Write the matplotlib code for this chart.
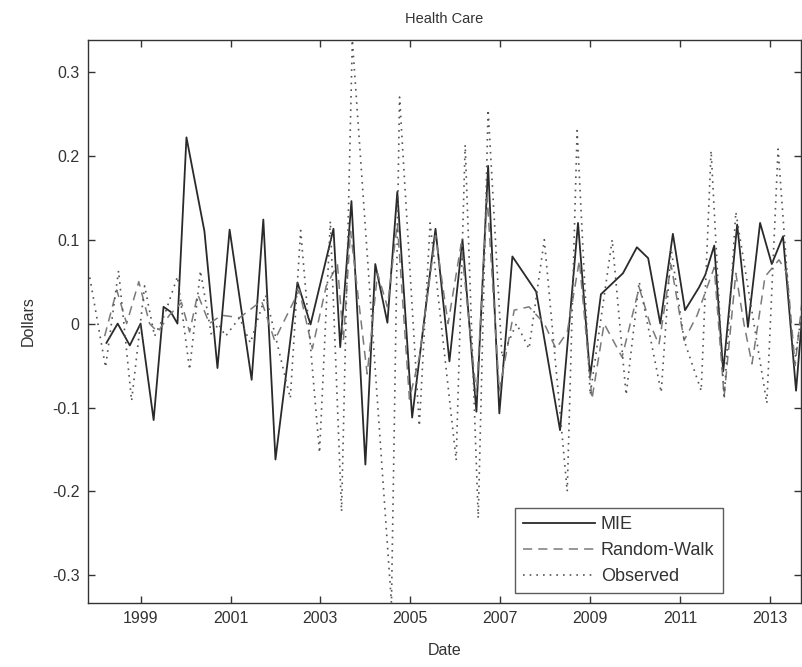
import matplotlib
matplotlib.use("Agg")
import matplotlib.pyplot as plt

plt.rcParams['font.family'] = ['Liberation Sans', 'DejaVu Sans']
plt.rcParams['axes.unicode_minus'] = False

# --- data (fractional years, dollars) ---
mie_t = [1998.24, 1998.49, 1998.76, 1999.00, 1999.29, 1999.51, 1999.67, 1999.82, 2000.02,
         2000.42, 2000.71, 2000.98, 2001.47, 2001.73, 2002.00, 2002.49, 2002.78, 2003.29,
         2003.44, 2003.69, 2004.00, 2004.22, 2004.49, 2004.71, 2005.04, 2005.56, 2005.87,
         2006.16, 2006.47, 2006.73, 2006.98, 2007.27, 2007.80, 2008.33, 2008.73, 2009.00,
         2009.24, 2009.73, 2010.04, 2010.29, 2010.56, 2010.84, 2011.11, 2011.42, 2011.56,
         2011.76, 2011.96, 2012.27, 2012.51, 2012.78, 2013.04, 2013.29, 2013.58, 2013.78]
mie_v = [-0.023, 0.000, -0.026, 0.000, -0.115, 0.020, 0.014, 0.000, 0.222,
         0.110, -0.053, 0.112, -0.067, 0.124, -0.162, 0.049, -0.001, 0.113,
         -0.028, 0.146, -0.168, 0.071, 0.001, 0.157, -0.112, 0.113, -0.045,
         0.100, -0.105, 0.188, -0.107, 0.080, 0.038, -0.127, 0.120, -0.063,
         0.035, 0.060, 0.091, 0.078, 0.000, 0.107, 0.016, 0.043, 0.058,
         0.093, -0.057, 0.118, -0.004, 0.120, 0.071, 0.104, -0.080, 0.050]

rw_t = [1998.20, 1998.47, 1998.69, 1998.96, 1999.20, 1999.38, 1999.64, 1999.91, 2000.09,
        2000.27, 2000.53, 2000.80, 2001.20, 2001.69, 2001.98, 2002.31, 2002.53, 2002.82,
        2003.13, 2003.38, 2003.51, 2003.67, 2003.91, 2004.04, 2004.27, 2004.49, 2004.71,
        2004.98, 2005.20, 2005.56, 2005.84, 2006.13, 2006.47, 2006.71, 2006.98, 2007.31,
        2007.64, 2007.98, 2008.24, 2008.49, 2008.76, 2009.04, 2009.31, 2009.71, 2010.09,
        2010.33, 2010.53, 2010.80, 2011.09, 2011.38, 2011.76, 2011.98, 2012.24, 2012.42,
        2012.60, 2012.89, 2013.20, 2013.38, 2013.56, 2013.76]
rw_v = [-0.015, 0.040, 0.000, 0.050, 0.000, -0.010, 0.010, 0.025, -0.010,
        0.035, 0.000, 0.010, 0.007, 0.027, -0.020, 0.016, 0.040, -0.030,
        0.045, 0.070, -0.020, 0.110, 0.000, -0.060, 0.060, 0.020, 0.120,
        -0.090, -0.040, 0.105, 0.000, 0.095, -0.085, 0.150, -0.080, 0.016,
        0.020, 0.000, -0.030, -0.010, 0.075, -0.090, 0.000, -0.040, 0.043,
        0.000, -0.025, 0.070, -0.020, 0.010, 0.067, -0.087, 0.060, 0.000,
        -0.048, 0.056, 0.076, 0.060, -0.050, 0.050]

obs_t = [1997.87, 1998.22, 1998.51, 1998.80, 1999.09, 1999.31, 1999.53, 1999.82, 2000.09,
         2000.33, 2000.58, 2000.73, 2000.89, 2001.20, 2001.44, 2001.78, 2002.33, 2002.56,
         2002.98, 2003.22, 2003.47, 2003.71, 2004.58, 2004.76, 2005.20, 2005.44, 2006.02,
         2006.22, 2006.51, 2006.73, 2007.04, 2007.36, 2007.64, 2007.98, 2008.49, 2008.71,
         2009.00, 2009.49, 2009.80, 2010.09, 2010.58, 2010.80, 2011.09, 2011.47, 2011.69,
         2011.98, 2012.24, 2012.93, 2013.18, 2013.53, 2013.76]
obs_v = [0.055, -0.052, 0.063, -0.092, 0.045, -0.015, 0.010, 0.056, -0.055,
         0.063, -0.015, 0.000, -0.015, 0.007, -0.023, 0.034, -0.089, 0.111,
         -0.154, 0.122, -0.224, 0.338, -0.333, 0.270, -0.122, 0.120, -0.163,
         0.213, -0.232, 0.255, -0.040, 0.000, -0.030, 0.100, -0.200, 0.230,
         -0.085, 0.100, -0.085, 0.050, -0.082, 0.090, -0.020, -0.080, 0.206,
         -0.090, 0.133, -0.095, 0.208, -0.050, 0.030]

xticks = [1999, 2001, 2003, 2005, 2007, 2009, 2011, 2013]
yticks = [-0.3, -0.2, -0.1, 0, 0.1, 0.2, 0.3]
ytick_labels = ['-0.3', '-0.2', '-0.1', '0', '0.1', '0.2', '0.3']

W, H = 802, 667
fig = plt.figure(figsize=(W / 100, H / 100), dpi=100)
ax = fig.add_axes([88 / W, 1 - 603 / H, (801 - 88) / W, (603 - 40) / H])

ax.plot(mie_t, mie_v, color='#2a2a2a', lw=1.3, ls='-', label='MIE')
ax.plot(rw_t, rw_v, color='#7a7a7a', lw=1.1, ls=(0, (6, 4)), label='Random-Walk')
ax.plot(obs_t, obs_v, color='#555555', lw=1.2, ls=(0, (1, 3)), label='Observed')

ax.set_xlim(1997.83, 2013.69)
ax.set_ylim(-0.333, 0.338)
ax.set_xticks(xticks)
ax.set_xticklabels([str(x) for x in xticks])
ax.set_yticks(yticks)
ax.set_yticklabels(ytick_labels)
ax.tick_params(direction='in', top=True, right=True, length=5, width=1,
               labelsize=11.5, labelcolor='#333333', color='#333333', pad=6)
for s in ax.spines.values():
    s.set_color('#333333')
    s.set_linewidth(1.0)

ax.set_title('Health Care', fontsize=10.5, color='#333333', pad=12)
ax.set_xlabel('Date', fontsize=11.5, color='#333333', labelpad=12)
ax.set_ylabel('Dollars', fontsize=11.5, color='#333333', labelpad=12)

leg = ax.legend(loc='lower left', bbox_to_anchor=((515 - 88) / (801 - 88), (603 - 593) / (603 - 40)),
                fontsize=13, frameon=True, fancybox=False, handlelength=4.0,
                borderpad=0.45, labelspacing=0.5, handletextpad=0.3, borderaxespad=0)
leg.get_frame().set_edgecolor('#333333')
leg.get_frame().set_linewidth(1.0)
for t in leg.get_texts():
    t.set_color('#333333')

fig.savefig('out.png', dpi=100)
